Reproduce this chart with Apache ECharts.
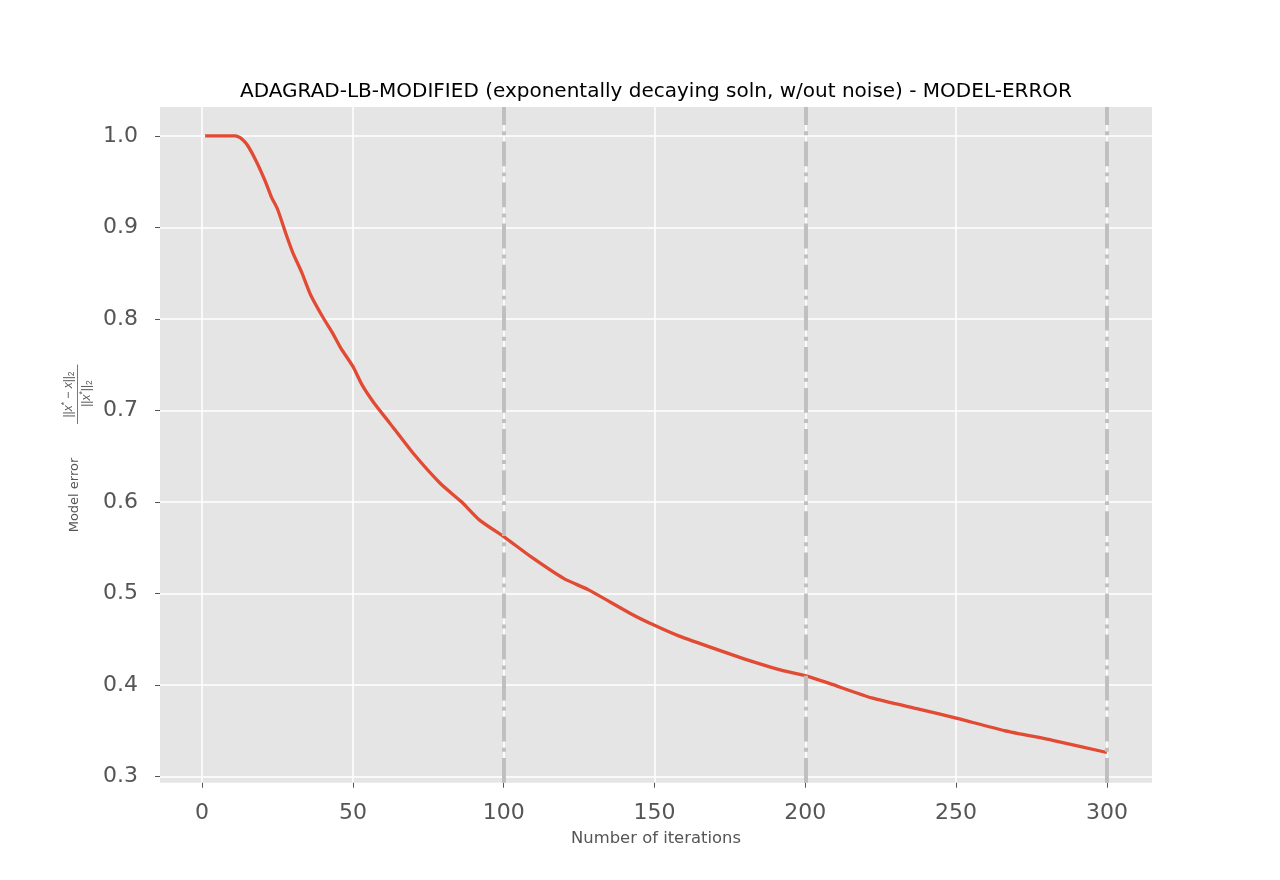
<!DOCTYPE html>
<html>
<head>
  <meta charset="utf-8"/>
  <title>ADAGRAD-LB-MODIFIED - MODEL-ERROR</title>
  <script src="https://cdn.jsdelivr.net/npm/echarts@6/dist/echarts.min.js"></script>
  <style>
    html, body {
      margin: 0;
      padding: 0;
      background-color: #ffffff;
    }
  </style>
</head>
<body>
<div id="main" style="width: 1280px;height: 880px"></div>
<script type="text/javascript">
  // points: iteration number and relative model error
  var iterations = [1, 11, 12, 13, 15, 18, 21, 23, 25, 28, 30, 33, 36, 40, 43, 46, 50, 53, 57, 62,
    70, 79, 86, 92, 100, 109, 120, 128, 142, 150, 158, 173, 181, 192, 200, 208, 222, 238, 250,
    266, 282, 300];
  var modelError = [1.000, 1.000, 0.999, 0.997, 0.990, 0.972, 0.950, 0.933, 0.920, 0.891, 0.873,
    0.851, 0.826, 0.802, 0.786, 0.768, 0.748, 0.728, 0.708, 0.687, 0.653, 0.620, 0.600, 0.580,
    0.562, 0.540, 0.516, 0.504, 0.478, 0.465, 0.4535, 0.436, 0.427, 0.416, 0.410, 0.4015, 0.3857,
    0.3732, 0.3636, 0.350, 0.3393, 0.326];

  // tick labels and the dash-dot markers
  var xTicks = [0, 50, 100, 150, 200, 250, 300];
  var yTicks = [0.3, 0.4, 0.5, 0.6, 0.7, 0.8, 0.9, 1.0];
  var markIters = [100, 200, 300];

  var font = 'DejaVu Sans';
  var grey = '#555555';
  var myChart = echarts.init(document.getElementById('main'));

  // rich styles for the little fraction in the y label
  var fracRich = {
    n: {fontSize: 12, fill: grey, lineHeight: 16},
    i: {fontSize: 12, fontStyle: 'italic', fill: grey, lineHeight: 16},
    s: {fontSize: 8.5, fill: grey, verticalAlign: 'top', lineHeight: 16},
    b: {fontSize: 8.5, fill: grey, verticalAlign: 'bottom', lineHeight: 16}
  };

  var option = {
    animation: false,
    textStyle: {fontFamily: font},
    graphic: [
      {
        type: 'text',
        x: 656,
        y: 91.5,
        style: {
          text: 'ADAGRAD-LB-MODIFIED (exponentally decaying soln, w/out noise) - MODEL-ERROR',
          fill: '#000000',
          fontSize: 20,
          fontFamily: font,
          align: 'center',
          verticalAlign: 'middle'
        }
      },
      {
        // y label with the fraction, drawn rotated
        type: 'group',
        x: 76,
        y: 445,
        rotation: Math.PI / 2,
        children: [
          {
            type: 'text',
            x: -50,
            y: -1,
            style: {
              text: 'Model error',
              fill: grey,
              fontSize: 13,
              fontFamily: font,
              align: 'center',
              verticalAlign: 'middle'
            }
          },
          {
            type: 'line',
            shape: {x1: 21, y1: 1.5, x2: 80.5, y2: 1.5},
            style: {stroke: grey, lineWidth: 0.8}
          },
          {
            type: 'text',
            x: 50.5,
            y: -7.5,
            style: {
              text: '{n|||}{i|x}{s|*}{n| − }{i|x}{n|||}{b|2}',
              fill: grey,
              fontFamily: font,
              align: 'center',
              verticalAlign: 'middle',
              rich: fracRich
            }
          },
          {
            type: 'text',
            x: 51.5,
            y: 10.5,
            style: {
              text: '{n|||}{i|x}{s|*}{n|||}{b|2}',
              fill: grey,
              fontFamily: font,
              align: 'center',
              verticalAlign: 'middle',
              rich: fracRich
            }
          }
        ]
      }
    ],
    grid: {
      left: 160,
      top: 107,
      width: 992,
      height: 675.7,
      show: true,
      backgroundColor: '#E5E5E5',
      borderWidth: 0
    },
    xAxis: {
      type: 'value',
      min: -13.95,
      max: 314.95,
      name: 'Number of iterations',
      nameLocation: 'middle',
      nameGap: 48,
      nameTextStyle: {fontSize: 16.4, color: grey, fontFamily: font},
      axisLine: {show: false, onZero: false},
      axisTick: {show: true, length: 5, customValues: xTicks, lineStyle: {color: grey, width: 1}},
      axisLabel: {customValues: xTicks, fontSize: 22, color: grey, margin: 20, fontFamily: font},
      splitLine: {show: true, lineStyle: {color: '#ffffff', width: 1.5}}
    },
    yAxis: {
      type: 'value',
      min: 0.293,
      max: 1.0315,
      axisLine: {show: false, onZero: false},
      axisTick: {show: true, length: 5, customValues: yTicks, lineStyle: {color: grey, width: 1}},
      axisLabel: {
        customValues: yTicks,
        fontSize: 22,
        color: grey,
        margin: 22,
        fontFamily: font,
        formatter: function (v) { return v.toFixed(1); }
      },
      splitLine: {show: true, lineStyle: {color: '#ffffff', width: 1.5}}
    },
    series: [
      {
        name: 'dividers',
        type: 'line',
        data: [],
        z: 2,
        markLine: {
          silent: true,
          animation: false,
          symbol: ['none', 'none'],
          label: {show: false},
          lineStyle: {color: '#bfbfbf', width: 3.9, type: [24.8, 6.2, 3.9, 6.2], cap: 'butt'},
          emphasis: {disabled: true},
          data: markIters.map(function (v) { return {xAxis: v}; })
        }
      },
      {
        name: 'model error',
        type: 'line',
        z: 3,
        symbol: 'none',
        showSymbol: false,
        smooth: 0.2,
        lineStyle: {color: '#E24A33', width: 3.3},
        data: iterations.map(function (it, i) { return [it, modelError[i]]; })
      }
    ]
  };

  myChart.setOption(option);
</script>
</body>
</html>
